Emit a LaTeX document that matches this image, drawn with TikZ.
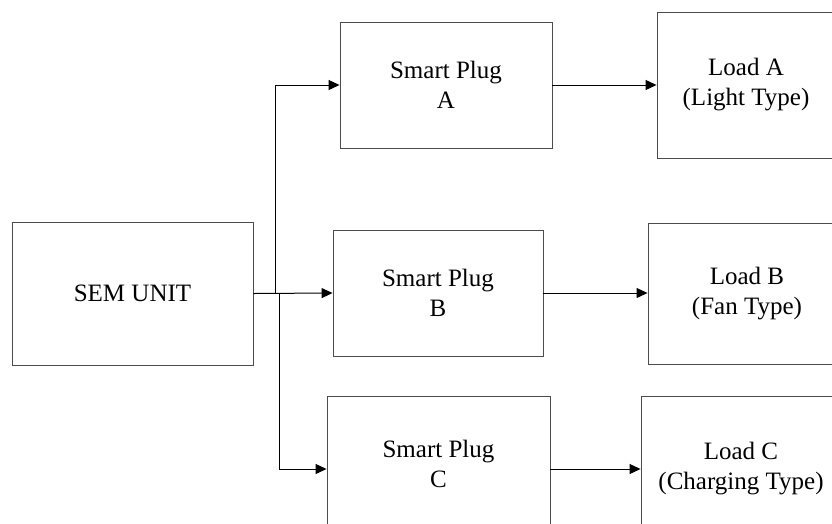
\documentclass[tikz,border=0pt]{standalone}
\usepackage{fontspec}
\setmainfont{Liberation Serif}
\usetikzlibrary{arrows.meta}
\begin{document}
\begin{tikzpicture}[x=1pt,y=-1pt,
  blk/.style={draw=black!70,line width=0.9pt,inner sep=0pt,align=center,
    font=\fontsize{25}{30}\selectfont},
  conn/.style={line width=1pt,-{Triangle[length=11pt,width=10pt]}},
  wire/.style={line width=1pt}]
\clip (0,0) rectangle (832,523);
\node[blk,minimum width=241pt,minimum height=143pt] (sem) at (132.5,293.5) {SEM UNIT};
\node[blk,minimum width=212pt,minimum height=126pt] (spa) at (446,85) {Smart Plug\\A};
\node[blk,minimum width=210pt,minimum height=126pt] (spb) at (438,293) {Smart Plug\\B};
\node[blk,minimum width=223pt,minimum height=146pt,text depth=10pt] (spc) at (438.5,469) {Smart Plug\\C};
\node[blk,minimum width=178pt,minimum height=146pt] (lda) at (746,85) {Load A\\(Light Type)};
\node[blk,minimum width=198pt,minimum height=141pt] (ldb) at (747,293.5) {Load B\\(Fan Type)};
\node[blk,minimum width=200pt,minimum height=146pt] (ldc) at (741,469) {Load C\\(Charging Type)};
\coordinate (j1) at (275,293);
\coordinate (j2) at (279,293);
\draw[conn] (sem.east) -- (spb.west);
\draw[conn] (j1) |- (spa.west);
\draw[conn] (j2) |- (spc.west);
\draw[conn] (spa.east) -- (lda.west);
\draw[conn] (spb.east) -- (ldb.west |- spb.east);
\draw[conn] (spc.east) -- (ldc.west);
\end{tikzpicture}
\end{document}
